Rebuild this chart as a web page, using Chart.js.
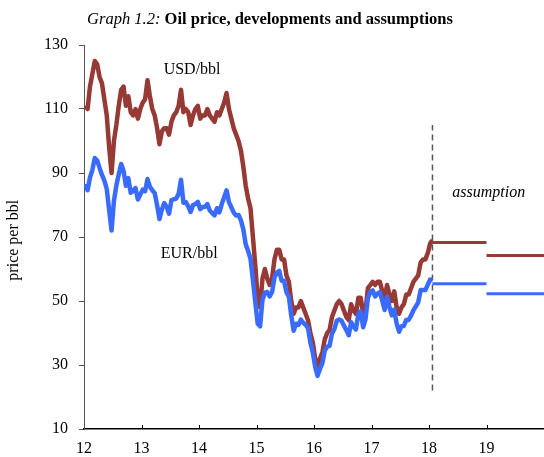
<!DOCTYPE html>
<html lang="en">
<head>
<meta charset="UTF-8">
<title>Oil price, developments and assumptions</title>
<script src="https://cdn.jsdelivr.net/npm/chart.js"></script>
<style>
  body { margin: 0; background: #fff; }
  #wrap { width: 544px; height: 457px; position: relative; }
</style>
</head>
<body>
<div id="wrap"><canvas id="chart"></canvas></div>
<script>
  // half-monthly readings, Jan 2012 .. Jan 2018 (year axis: 12 = 2012)
  const startYear = 12;
  const usd = [
    111, 110, 117, 121, 125, 124, 120, 118, 113, 108, 98, 90, 100, 105, 111, 116, 117, 111, 114, 109, 108, 110, 107, 110,
    112, 113, 119, 114, 110, 108, 104, 99, 103, 104, 104, 102, 106, 108, 109, 111, 116, 109, 110, 109, 105, 108, 110, 111,
    107, 108, 108, 110, 108, 107, 106, 109, 108, 110, 112, 115, 110, 107, 104, 102, 100, 97, 92, 86, 82, 79, 70, 61,
    51, 48, 57, 60, 57, 55, 57, 63, 66, 66, 63, 63, 58, 56, 50, 46, 48, 48, 50, 48, 46, 44, 40, 37,
    32, 29, 32, 34, 38, 40, 41, 45, 47, 49, 50, 49, 47, 45, 44, 49, 47, 46, 51, 51, 46, 47, 54, 55,
    56, 55, 56, 56, 53, 51, 55, 52, 50, 53, 48, 46, 48, 49, 52, 52, 54, 56, 57, 58, 62, 63, 63, 65,
    68, 69
  ];
  const eur = [
    86.7, 84.6, 88.6, 91.0, 94.7, 93.9, 91.6, 89.4, 87.6, 85.0, 78.4, 72.0, 81.3, 86.1, 89.5, 92.8, 90.7, 86.0, 88.4, 83.8, 84.4, 85.3, 81.7, 83.3,
    84.8, 84.3, 88.1, 85.7, 84.6, 83.7, 80.0, 75.6, 78.6, 80.6, 79.4, 77.3, 81.5, 81.8, 82.0, 83.5, 87.9, 80.7, 80.9, 79.6, 77.8, 80.0, 80.3, 81.0,
    78.7, 79.4, 79.4, 80.3, 78.3, 77.5, 76.8, 79.0, 77.7, 80.3, 82.4, 84.6, 80.9, 79.3, 77.6, 76.7, 76.9, 75.2, 72.4, 67.7, 65.6, 63.2, 56.5, 49.6,
    42.9, 42.1, 50.4, 52.6, 52.8, 51.4, 52.8, 57.3, 58.9, 59.4, 56.3, 56.3, 52.7, 51.4, 45.5, 40.7, 42.9, 42.5, 44.2, 43.2, 42.6, 41.5, 37.0, 33.9,
    29.4, 26.6, 28.8, 30.6, 34.5, 35.7, 36.0, 39.8, 41.2, 43.8, 44.2, 43.8, 42.3, 40.9, 39.3, 43.4, 42.0, 41.1, 45.9, 46.8, 41.8, 44.3, 50.9, 52.9,
    53.3, 51.4, 52.3, 52.8, 50.0, 47.2, 51.4, 48.1, 45.5, 47.3, 42.9, 40.4, 42.1, 42.2, 44.1, 44.1, 45.4, 47.1, 48.3, 49.6, 53.4, 53.4, 53.4, 55.1,
    56.7, 56.6
  ];

  // assumptions: flat levels for the rest of 2018 and for 2019
  const cutoff = 18.06;
  const cutoffRange = [22, 105];
  const assumptionBreaks = [cutoff, 19, 20];
  const usdAssumption = [68.3, 64.2];
  const eurAssumption = [55.4, 52.3];

  const xTicks = [12, 13, 14, 15, 16, 17, 18, 19];
  const yTicks = [10, 30, 50, 70, 90, 110, 130];

  const RED = '#973a35';
  const BLUE = '#3a6bff';
  const SERIF = '"Liberation Serif", "Times New Roman", serif';

  const toPoints = arr => arr.map((v, i) => ({ x: startYear + (i + 0.5) / 24, y: v }));

  function stepPoints(levels) {
    return [
      { x: assumptionBreaks[0], y: levels[0] },
      { x: assumptionBreaks[1], y: levels[0] },
      { x: assumptionBreaks[1], y: null },
      { x: assumptionBreaks[1], y: levels[1] },
      { x: assumptionBreaks[2], y: levels[1] }
    ];
  }

  const decorations = {
    id: 'decorations',
    afterDraw(chart) {
      const { ctx, scales: { x, y } } = chart;
      ctx.save();

      // small inward ticks on the year axis
      ctx.strokeStyle = '#000';
      ctx.lineWidth = 1;
      xTicks.slice(1).forEach(v => {
        const px = Math.round(x.getPixelForValue(v)) + 0.5;
        ctx.beginPath();
        ctx.moveTo(px, y.bottom);
        ctx.lineTo(px, y.bottom - 4);
        ctx.stroke();
      });

      ctx.fillStyle = '#000';
      ctx.textBaseline = 'middle';
      ctx.textAlign = 'center';
      ctx.font = '16px ' + SERIF;
      ctx.fillText('USD/bbl', x.getPixelForValue(13.88), y.getPixelForValue(122.2));
      ctx.fillText('EUR/bbl', x.getPixelForValue(13.83), y.getPixelForValue(64.7));
      ctx.font = 'italic 16px ' + SERIF;
      ctx.fillText('assumption', x.getPixelForValue(19.04), y.getPixelForValue(83.8));

      // y axis title
      ctx.save();
      ctx.translate(14, y.getPixelForValue(69));
      ctx.rotate(-Math.PI / 2);
      ctx.font = '16px ' + SERIF;
      ctx.fillText('price per bbl', 0, 0);
      ctx.restore();

      // title: italic lead-in, bold rest
      const lead = 'Graph 1.2: ';
      const rest = 'Oil price, developments and assumptions';
      ctx.textAlign = 'left';
      ctx.textBaseline = 'alphabetic';
      ctx.font = 'italic 16.5px ' + SERIF;
      const w1 = ctx.measureText(lead).width;
      ctx.font = 'bold 16.5px ' + SERIF;
      const w2 = ctx.measureText(rest).width;
      const left = 270 - (w1 + w2) / 2;
      ctx.font = 'italic 16.5px ' + SERIF;
      ctx.fillText(lead, left, 24);
      ctx.font = 'bold 16.5px ' + SERIF;
      ctx.fillText(rest, left + w1, 24);

      ctx.restore();
    }
  };

  new Chart(document.getElementById('chart'), {
    type: 'line',
    data: {
      datasets: [
        {
          label: 'EUR/bbl',
          data: toPoints(eur),
          borderColor: BLUE,
          borderWidth: 4.5,
          order: 0
        },
        {
          label: 'USD/bbl',
          data: toPoints(usd),
          borderColor: RED,
          borderWidth: 4.5,
          order: 1
        },
        {
          label: 'USD assumption',
          data: stepPoints(usdAssumption),
          borderColor: RED,
          borderWidth: 3,
          spanGaps: false,
          order: 2
        },
        {
          label: 'EUR assumption',
          data: stepPoints(eurAssumption),
          borderColor: BLUE,
          borderWidth: 3,
          spanGaps: false,
          order: 2
        },
        {
          label: 'cut-off',
          data: [{ x: cutoff, y: cutoffRange[0] }, { x: cutoff, y: cutoffRange[1] }],
          borderColor: '#555',
          borderWidth: 1.5,
          borderDash: [6, 4],
          order: 3
        }
      ]
    },
    options: {
      responsive: true,
      maintainAspectRatio: false,
      animation: false,
      layout: { padding: { top: 45, right: 0, left: 0, bottom: 0 } },
      elements: {
        point: { radius: 0 },
        line: { tension: 0, borderCapStyle: 'butt', borderJoinStyle: 'round' }
      },
      plugins: {
        legend: { display: false },
        tooltip: { enabled: false }
      },
      scales: {
        x: {
          type: 'linear',
          min: 12,
          max: 20,
          afterFit: s => { s.height = 28; },
          afterBuildTicks: s => { s.ticks = xTicks.map(v => ({ value: v })); },
          grid: { display: true, drawOnChartArea: false, drawTicks: false },
          border: { color: '#000', width: 1.5 },
          ticks: {
            color: '#000',
            padding: 10,
            maxRotation: 0,
            font: { family: SERIF, size: 16 },
            callback: v => String(v)
          }
        },
        y: {
          min: 10,
          max: 130,
          afterFit: s => { s.width = 84; },
          afterBuildTicks: s => { s.ticks = yTicks.map(v => ({ value: v })); },
          grid: { drawOnChartArea: false, tickLength: 5, color: '#555' },
          border: { color: '#555', width: 1 },
          ticks: {
            color: '#000',
            padding: 11,
            font: { family: SERIF, size: 16 }
          }
        }
      }
    },
    plugins: [decorations]
  });
</script>
</body>
</html>
